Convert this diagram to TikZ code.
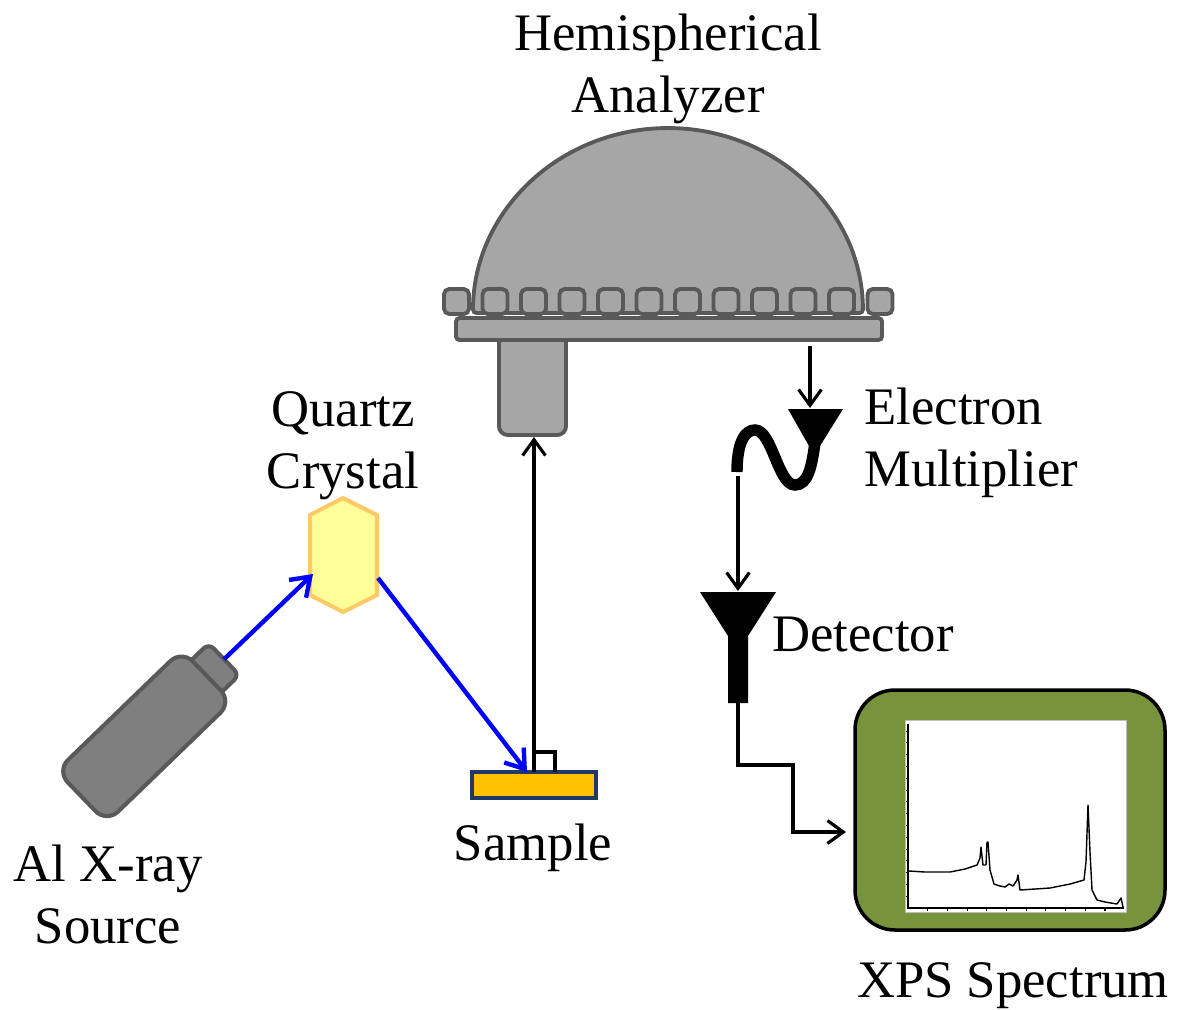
\documentclass[tikz,border=0pt]{standalone}
\usepackage{fontspec}
\newfontfamily\labelfont{Liberation Serif}
\usetikzlibrary{arrows.meta}
\definecolor{partgray}{HTML}{A6A6A6}
\definecolor{edgegray}{HTML}{595959}
\definecolor{tubegray}{HTML}{7F7F7F}
\definecolor{quartzfill}{HTML}{FFFF99}
\definecolor{quartzedge}{HTML}{FFC966}
\definecolor{samplefill}{HTML}{FFC000}
\definecolor{sampleedge}{HTML}{1F3864}
\definecolor{screen}{HTML}{77933C}
\tikzset{
  part/.style={fill=partgray, draw=edgegray, line width=2.2pt, rounded corners=2pt},
  txt/.style={font=\labelfont\fontsize{30}{35}\selectfont, inner sep=0pt, align=center},
  beam/.style={blue, line width=2.5pt, -{Straight Barb[length=10pt,width=14pt]}},
  signal/.style={line width=1.8pt, -{Straight Barb[length=9pt,width=13pt]}},
}

\begin{document}
\begin{tikzpicture}[x=0.02cm, y=-0.02cm]
  \useasboundingbox (0,0) rectangle (1184,1009);
  % analyzer
  \draw[part] (473,313) arc[start angle=180, end angle=0, x radius=3.9cm, y radius=3.7cm] -- cycle;
  \foreach \i in {0,...,11}
    \draw[part, rounded corners=3pt] ({444+38.5*\i},289) rectangle ++(25,25);
  \draw[part, rounded corners=5pt] (499,330) -- (499,435) -- (566,435) -- (566,330);
  \draw[part] (456,318) rectangle (882,340);
  % x-ray source
  \begin{scope}[shift={(143.5,737)}, rotate=44]
    \draw[fill=tubegray, draw=edgegray, line width=2.3pt, rounded corners=4pt] (80,-22) rectangle (112,22);
    \draw[fill=tubegray, draw=edgegray, line width=2.3pt, rounded corners=9pt] (-86,-36) rectangle (88,36);
    \coordinate (capend) at (112,0);
  \end{scope}
  % crystal and sample
  \draw[fill=quartzfill, draw=quartzedge, line width=2.3pt] (343,498) -- (377,515) -- (377,595)
    -- (343,612) -- (310,595) -- (310,515) -- cycle;
  \draw[fill=samplefill, draw=sampleedge, line width=1.8pt] (472,772) rectangle (596,798);
  % multiplier and detector
  \fill (788,409) -- (843,409) -- (820,446) -- (809,446) -- cycle;
  \draw[line width=6.5pt] (737,472) .. controls (737,442) and (745,430) .. (755,430)
    .. controls (772,430) and (778,485) .. (795,485) .. controls (808,485) and (812,466) .. (815,442);
  \fill (700,592) -- (776,592) -- (748,636) -- (748,703) -- (728,703) -- (728,636) -- cycle;
  % spectrum
  \draw[fill=screen, line width=2pt, rounded corners=0.8cm] (855,690) rectangle (1165,930);
  \draw[fill=white, draw=gray!50, line width=0.5pt] (905,720) rectangle (1126,912);
  \draw[line width=0.8pt] (908,724) -- (908,908) -- (1124,908);
  \foreach \i in {1,...,10}
    \draw[line width=0.6pt] ({908+19.7*\i},908) -- ++(0,3);
  \foreach \j in {1,...,15}
    \draw[line width=0.5pt] (908,{908-11.8*\j}) -- ++(-2,0);
  \draw[line width=0.8pt, line join=round] plot coordinates {(909,871) (925,872) (950,872) (965,869)
    (977,865) (980,858) (981,847) (983,865) (986,865) (987,842) (988,842) (990,870) (992,877)
    (994,884) (1000,886) (1005,887) (1009,884) (1013,886) (1017,880) (1018,875) (1020,890)
    (1050,888) (1070,884) (1084,880) (1086,862) (1088,805) (1090,852) (1092,890) (1097,900)
    (1105,902) (1117,904) (1121,898) (1123,907)};
  % rays and signal path
  \coordinate (quartzin) at (313,574);
  \coordinate (quartzout) at (378,578);
  \coordinate (samplehit) at (527,772);
  \coordinate (sampletop) at (534,772);
  \coordinate (slitin) at (534,437);
  \coordinate (anaout) at (810,346);
  \coordinate (multin) at (810,408);
  \coordinate (multout) at (738,476);
  \coordinate (detin) at (738,591);
  \coordinate (detout) at (738,703);
  \coordinate (bend) at (793,765);
  \coordinate (specin) at (846,832);
  \draw[beam] (capend) -- (quartzin);
  \draw[beam] (quartzout) -- (samplehit);
  \draw[signal] (sampletop) -- (slitin);
  \draw[line width=1.8pt] (534,752) -- (555,752) -- (555,772);
  \draw[signal] (anaout) -- (multin);
  \draw[signal] (multout) -- (detin);
  \draw[signal] (detout) |- (bend) |- (specin);
  % labels (base = last line)
  \node[txt, anchor=base] (analyzer) at (668,112) {Hemispherical\\Analyzer};
  \node[txt, anchor=base] (quartz) at (343,488) {Quartz\\Crystal};
  \node[txt, anchor=base west, align=left] (multiplier) at (864,486) {Electron\\Multiplier};
  \node[txt, anchor=base west] (detector) at (772,651) {Detector};
  \node[txt, anchor=base] (sample) at (533,860) {Sample};
  \node[txt, anchor=base] (source) at (108,943) {Al X-ray\\Source};
  \node[txt, anchor=base] (spectrum) at (1013,997) {XPS Spectrum};
\end{tikzpicture}
\end{document}
